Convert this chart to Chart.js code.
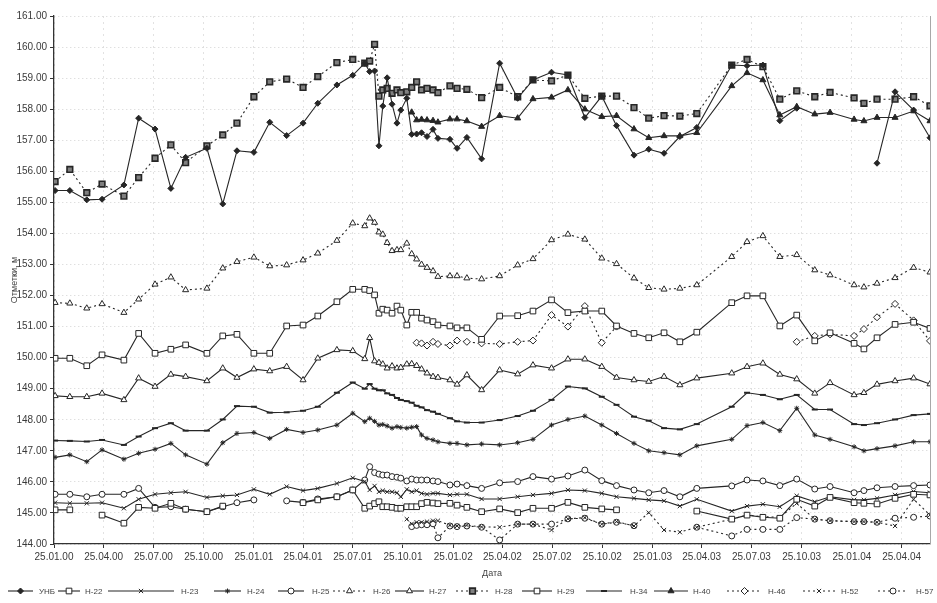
<!DOCTYPE html>
<html>
<head>
<meta charset="utf-8">
<script src="https://cdn.jsdelivr.net/npm/chart.js@4/dist/chart.umd.min.js"></script>
<style>
  html, body { margin: 0; padding: 0; background: #fff; }
  #wrap { width: 937px; height: 603px; position: relative; }
</style>
</head>
<body>
<div id="wrap"><canvas id="chart" width="937" height="603"></canvas></div>
<script>
// Observation dates (dd.mm.yy)
const sampleDates = [
  '27.01.00','23.02.00','25.03.00','22.04.00','01.06.00','28.06.00','28.07.00','26.08.00','22.09.00','31.10.00','29.11.00','25.12.00','25.01.01',
  '23.02.01','26.03.01','25.04.01','22.05.01','26.06.01','25.07.01','16.08.01','25.08.01','03.09.01','11.09.01','18.09.01','26.09.01','05.10.01',
  '14.10.01','21.10.01','01.11.01','10.11.01','19.11.01','28.11.01','08.12.01','19.12.01','28.12.01','19.01.02','01.02.02','19.02.02','18.03.02',
  '20.04.02','23.05.02','20.06.02','24.07.02','23.08.02','23.09.02','24.10.02','20.11.02','22.12.02','18.01.03','15.02.03','16.03.03','16.04.03',
  '19.06.03','17.07.03','15.08.03','15.09.03','16.10.03','18.11.03','16.12.03','29.01.04','16.02.04','11.03.04','13.04.04','17.05.04','16.06.04'
];

// Axis tick dates and value range
const tickDates = ['25.01.00','25.04.00','25.07.00','25.10.00','25.01.01','25.04.01','25.07.01','25.10.01','25.01.02',
                   '25.04.02','25.07.02','25.10.02','25.01.03','25.04.03','25.07.03','25.10.03','25.01.04','25.04.04'];
const axisStart = '25.01.00';
const axisEnd = '16.06.04';
const levelMin = 144;
const levelMax = 161;

// Water levels, m (null = no measurement)
const unbLevel = [
  155.38,155.38,155.08,155.10,155.56,157.71,157.36,155.45,156.45,156.74,154.95,156.66,156.61,
  157.58,157.15,157.55,158.19,158.78,159.09,159.48,159.21,159.23,156.82,158.10,159.01,158.16,
  157.55,157.97,158.35,157.19,157.20,157.24,157.12,157.35,157.06,157.03,156.74,157.09,156.40,
  159.48,158.35,158.94,159.19,159.10,157.73,158.42,157.47,156.52,156.71,156.58,157.12,157.41,
  159.42,159.40,159.42,157.63,158.03,null,null,null,null,156.26,158.56,157.97,157.08
];
const h22Level = [
  145.10,145.10,null,144.93,144.67,145.18,145.15,145.31,145.12,145.04,145.22,null,null,
  null,null,145.33,145.42,145.52,145.74,145.15,145.22,145.30,145.36,145.20,145.20,145.18,
  145.15,145.15,145.20,145.20,145.20,145.30,145.34,145.32,145.30,145.31,145.25,145.18,145.04,
  145.13,145.01,145.15,145.15,145.34,145.18,145.13,145.10,null,null,null,null,145.06,
  144.80,144.93,144.86,144.83,145.44,145.22,145.50,145.33,145.31,145.29,145.47,145.60,145.58
];
const h23Level = [
  145.33,145.31,145.31,145.33,145.15,145.44,145.60,145.65,145.68,145.50,145.55,145.58,145.76,
  145.60,145.85,145.72,145.79,145.95,146.13,146.01,145.74,145.87,145.68,145.72,145.68,145.68,
  145.65,145.52,145.76,145.68,145.72,145.63,145.60,145.63,145.63,145.58,145.60,145.60,145.45,
  145.45,145.52,145.58,145.63,145.74,145.72,145.63,145.52,145.47,145.42,145.39,145.22,145.44,
  145.06,145.22,145.28,145.20,145.55,145.36,145.52,145.42,145.42,145.47,145.58,145.69,145.65
];
const h24Level = [
  146.79,146.87,146.65,147.03,146.73,146.92,147.05,147.24,146.87,146.57,147.26,147.56,147.59,
  147.40,147.69,147.59,147.67,147.83,148.21,147.94,148.05,147.95,147.83,147.85,147.80,147.73,
  147.78,147.75,147.73,147.76,147.78,147.51,147.40,147.35,147.29,147.24,147.24,147.19,147.22,
  147.19,147.26,147.37,147.83,148.01,148.12,147.83,147.56,147.24,147.00,146.94,146.87,147.16,
  147.37,147.81,147.91,147.65,148.37,147.51,147.37,147.13,147.00,147.07,147.16,147.29,147.29
];
const h25Level = [
  145.60,145.60,145.52,145.60,145.60,145.79,145.18,145.20,145.12,145.04,145.20,145.33,145.42,
  null,145.39,145.34,145.45,145.52,145.74,146.06,146.49,146.30,146.25,146.22,146.22,146.17,
  146.15,146.12,146.03,146.09,146.06,146.06,146.06,146.03,146.01,145.90,145.93,145.88,145.79,
  145.97,146.01,146.17,146.09,146.19,146.38,146.04,145.88,145.74,145.65,145.72,145.52,145.79,
  145.87,146.06,146.03,145.88,146.09,145.77,145.85,145.65,145.72,145.81,145.85,145.88,145.90
];
const h26Level = [
  151.77,151.75,151.59,151.73,151.45,151.88,152.36,152.59,152.18,152.23,152.88,153.09,153.23,
  152.95,152.98,153.14,153.36,153.77,154.33,154.24,154.49,154.35,154.04,153.97,153.70,153.44,
  153.47,153.47,153.68,153.34,153.17,153.00,152.90,152.79,152.61,152.63,152.63,152.56,152.53,
  152.63,152.98,153.18,153.79,153.97,153.81,153.20,153.02,152.56,152.25,152.20,152.23,152.34,
  153.25,153.73,153.92,153.25,153.31,152.82,152.66,152.34,152.27,152.39,152.57,152.90,152.75
];
const h27Level = [
  148.77,148.74,148.74,148.85,148.64,149.34,149.07,149.46,149.39,149.25,149.66,149.36,149.63,
  149.57,149.71,149.28,149.98,150.25,150.22,149.96,150.64,149.89,149.84,149.79,149.66,149.73,
  149.66,149.68,149.79,149.80,149.74,149.63,149.50,149.39,149.36,149.28,149.14,149.44,148.96,
  149.60,149.47,149.76,149.66,149.95,149.95,149.71,149.36,149.28,149.23,149.39,149.12,149.34,
  149.50,149.71,149.82,149.46,149.31,148.85,149.19,148.80,148.87,149.14,149.25,149.34,149.15
];
const h28Level = [
  155.67,156.06,155.31,155.59,155.20,155.80,156.42,156.85,156.28,156.82,157.17,157.55,158.40,
  158.88,158.97,158.70,159.05,159.50,159.60,159.48,159.55,160.09,158.42,158.62,158.67,158.51,
  158.62,158.53,158.56,158.70,158.88,158.62,158.67,158.62,158.53,158.75,158.67,158.64,158.37,
  158.70,158.40,158.94,158.91,159.10,158.35,158.42,158.42,158.05,157.71,157.79,157.78,157.86,
  159.42,159.60,159.37,158.32,158.59,158.40,158.54,158.36,158.19,158.32,158.32,158.40,158.11
];
const h29Level = [
  149.98,149.98,149.74,150.09,149.92,150.78,150.14,150.27,150.41,150.14,150.70,150.75,150.14,
  150.14,151.02,151.05,151.34,151.80,152.20,152.20,152.16,152.02,151.43,151.56,151.53,151.43,
  151.66,151.53,151.05,151.46,151.46,151.27,151.21,151.16,151.05,151.02,150.96,150.96,150.59,
  151.34,151.35,151.50,151.86,151.45,151.50,151.50,151.02,150.78,150.64,150.80,150.51,150.82,
  151.77,151.99,151.99,151.02,151.37,150.54,150.80,150.46,150.28,150.64,151.07,151.14,150.94
];
const h34Level = [
  147.33,147.32,147.30,147.35,147.19,147.46,147.73,147.89,147.65,147.65,148.01,148.44,148.42,
  148.23,148.24,148.29,148.42,148.87,149.20,149.00,149.15,149.00,148.95,148.95,148.85,148.80,
  148.70,148.64,148.60,148.55,148.45,148.40,148.31,148.26,148.19,148.05,147.95,147.91,147.91,
  147.99,148.12,148.29,148.64,149.07,149.01,148.74,148.48,148.10,147.97,147.73,147.69,147.86,
  148.42,148.87,148.80,148.66,148.80,148.33,148.33,147.86,147.83,147.89,148.01,148.15,148.19
];
const h40Level = [
  null,null,null,null,null,null,null,null,null,null,null,null,null,
  null,null,null,null,null,null,null,null,null,null,null,null,null,
  null,null,null,157.90,157.65,157.67,157.65,157.63,157.58,157.68,157.68,157.62,157.44,
  157.79,157.71,158.33,158.38,158.62,158.00,157.76,157.79,157.36,157.08,157.14,157.14,157.24,
  158.75,159.17,158.94,157.81,158.08,157.84,157.89,157.67,157.62,157.73,157.73,157.94,157.62
];
const h46Level = [
  null,null,null,null,null,null,null,null,null,null,null,null,null,
  null,null,null,null,null,null,null,null,null,null,null,null,null,
  null,null,null,null,150.48,150.46,150.39,150.51,150.44,150.39,150.55,150.51,150.46,
  150.44,150.51,150.55,151.37,151.00,151.66,150.48,151.00,null,null,null,null,null,
  null,null,null,null,150.51,150.70,150.75,150.70,150.92,151.30,151.73,151.20,150.54
];
const h52Level = [
  null,null,null,null,null,null,null,null,null,null,null,null,null,
  null,null,null,null,null,null,null,null,null,null,null,null,null,
  null,null,144.80,144.65,144.70,144.70,144.72,144.75,144.75,144.60,144.58,144.60,144.55,
  144.54,144.64,144.64,144.45,144.81,144.85,144.64,144.72,144.58,145.01,144.45,144.38,144.54,
  144.80,144.93,144.88,144.86,145.31,144.80,144.75,144.72,144.72,144.70,144.58,145.44,144.93
];
const h57Level = [
  null,null,null,null,null,null,null,null,null,null,null,null,null,
  null,null,null,null,null,null,null,null,null,null,null,null,null,
  null,null,null,144.56,144.60,144.62,144.62,144.65,144.20,144.58,144.56,144.58,144.54,
  144.13,144.64,144.64,144.64,144.81,144.83,144.64,144.70,144.59,null,null,null,144.54,
  144.26,144.47,144.47,144.47,144.85,144.80,144.75,144.72,144.72,144.70,144.83,144.86,144.90
];

// --- drawing ---
const INK = '#262626';
const DAY_MS = 86400000;
function dayIndex(s) {
  const [d, m, y] = s.split('.').map(Number);
  const [d0, m0, y0] = axisStart.split('.').map(Number);
  return Math.round((Date.UTC(2000 + y, m - 1, d) - Date.UTC(2000 + y0, m0 - 1, d0)) / DAY_MS);
}
const tickMap = new Map(tickDates.map(t => [dayIndex(t), t]));

const seriesStyle = [
  { label: 'УНБ',  values: unbLevel, marker: 'rectRot',  r: 3,   fill: INK,    dash: [] },
  { label: 'Н-22', values: h22Level, marker: 'rect',     r: 4,   fill: '#fff', dash: [] },
  { label: 'Н-23', values: h23Level, marker: 'crossRot', r: 3,   fill: INK,    dash: [] },
  { label: 'Н-24', values: h24Level, marker: 'star',     r: 2.5, fill: INK,    dash: [] },
  { label: 'Н-25', values: h25Level, marker: 'circle',   r: 3,   fill: '#fff', dash: [] },
  { label: 'Н-26', values: h26Level, marker: 'triangle', r: 3.5, fill: '#fff', dash: [2, 3] },
  { label: 'Н-27', values: h27Level, marker: 'triangle', r: 3.5, fill: '#fff', dash: [] },
  { label: 'Н-28', values: h28Level, marker: 'rect',     r: 4,   fill: '#808080', dash: [2, 3], bw: 1.6 },
  { label: 'Н-29', values: h29Level, marker: 'rect',     r: 4,   fill: '#fff', dash: [] },
  { label: 'Н-34', values: h34Level, marker: 'line',     r: 3,   fill: INK,    dash: [], bw: 2 },
  { label: 'Н-40', values: h40Level, marker: 'triangle', r: 3.5, fill: INK,    dash: [] },
  { label: 'Н-46', values: h46Level, marker: 'rectRot',  r: 3.5, fill: '#fff', dash: [2, 3] },
  { label: 'Н-52', values: h52Level, marker: 'crossRot', r: 3,   fill: INK,    dash: [2, 3] },
  { label: 'Н-57', values: h57Level, marker: 'circle',   r: 3,   fill: '#fff', dash: [2, 3] }
];

const datasets = seriesStyle.map(s => ({
  label: s.label,
  data: s.values.map((v, i) => ({ x: dayIndex(sampleDates[i]), y: v })),
  borderColor: INK,
  borderWidth: 1.1,
  borderDash: s.dash,
  pointStyle: s.marker,
  pointRadius: s.r,
  pointBorderWidth: s.bw || 1,
  pointBorderColor: INK,
  pointBackgroundColor: s.fill,
  spanGaps: false,
  tension: 0,
  fill: false
}));

// legend slots: [line start, line end, text x]
const keySlots = [
  [8, 33, 39], [58, 80, 85], [108, 174, 181], [214, 241, 247], [278, 304, 312],
  [333, 366, 373], [395, 424, 429], [456, 489, 495], [522, 552, 557],
  [586, 622, 630], [654, 688, 693], [727, 762, 768], [803, 835, 841], [878, 908, 916]
];

const keyPlugin = {
  id: 'seriesKey',
  afterDraw(chart) {
    const ctx = chart.ctx;
    const area = chart.chartArea;
    // right frame of the plot area
    ctx.save();
    ctx.strokeStyle = '#a8a8a8';
    ctx.lineWidth = 1;
    ctx.beginPath();
    ctx.moveTo(area.right + 0.5, area.top);
    ctx.lineTo(area.right + 0.5, area.bottom);
    ctx.stroke();
    ctx.restore();

    const y = 591;
    chart.data.datasets.forEach((ds, i) => {
      const [x0, x1, tx] = keySlots[i];
      ctx.save();
      ctx.strokeStyle = INK;
      ctx.lineWidth = 1.1;
      ctx.setLineDash(ds.borderDash || []);
      ctx.beginPath();
      ctx.moveTo(x0, y);
      ctx.lineTo(x1, y);
      ctx.stroke();
      ctx.setLineDash([]);
      ctx.fillStyle = ds.pointBackgroundColor;
      ctx.strokeStyle = INK;
      ctx.lineWidth = ds.pointBorderWidth;
      Chart.helpers.drawPoint(ctx, {
        pointStyle: ds.pointStyle, radius: ds.pointRadius,
        borderWidth: ds.pointBorderWidth, rotation: 0
      }, (x0 + x1) / 2, y);
      ctx.fillStyle = '#444';
      ctx.font = '8px "Liberation Sans", Arial, sans-serif';
      ctx.textBaseline = 'middle';
      ctx.fillText(ds.label, tx, y + 0.5);
      ctx.restore();
    });
  }
};

new Chart(document.getElementById('chart'), {
  type: 'line',
  data: { datasets },
  plugins: [keyPlugin],
  options: {
    responsive: false,
    animation: false,
    devicePixelRatio: 1,
    layout: { padding: { top: 16, right: 7, left: 0, bottom: 19 } },
    plugins: { legend: { display: false }, tooltip: { enabled: false } },
    scales: {
      x: {
        type: 'linear',
        min: dayIndex(axisStart),
        max: dayIndex(axisEnd),
        afterBuildTicks(scale) {
          scale.ticks = tickDates.map(t => ({ value: dayIndex(t) }));
        },
        afterFit(scale) { scale.height = 40; },
        ticks: {
          autoSkip: false, maxRotation: 0, padding: 3,
          color: '#3a3a3a',
          font: { family: '"Liberation Sans", Arial, sans-serif', size: 10 },
          callback: v => tickMap.has(v) ? tickMap.get(v) : ''
        },
        grid: { color: '#e2e2e2', lineWidth: 1, tickLength: 4, tickColor: '#333', tickBorderDash: [] },
        border: { display: true, color: '#333', width: 1.3, dash: [2, 4] },
        title: {
          display: true, text: 'Дата', color: '#444',
          font: { family: '"Liberation Sans", Arial, sans-serif', size: 9 },
          padding: { top: 0, bottom: 5 }
        }
      },
      y: {
        min: levelMin, max: levelMax,
        afterFit(scale) { scale.width = 54; },
        ticks: {
          stepSize: 1, padding: 3, color: '#3a3a3a',
          font: { family: '"Liberation Sans", Arial, sans-serif', size: 10 },
          callback: v => v.toFixed(2)
        },
        grid: { color: '#d2d2d2', lineWidth: 1, tickLength: 4, tickColor: '#333', tickBorderDash: [] },
        border: { display: true, color: '#333', width: 1.3, dash: [1, 3] },
        title: {
          display: true, text: 'Отметки, м', color: '#444',
          font: { family: '"Liberation Sans", Arial, sans-serif', size: 9 },
          padding: { top: 9, bottom: 0 }
        }
      }
    }
  }
});
</script>
</body>
</html>
